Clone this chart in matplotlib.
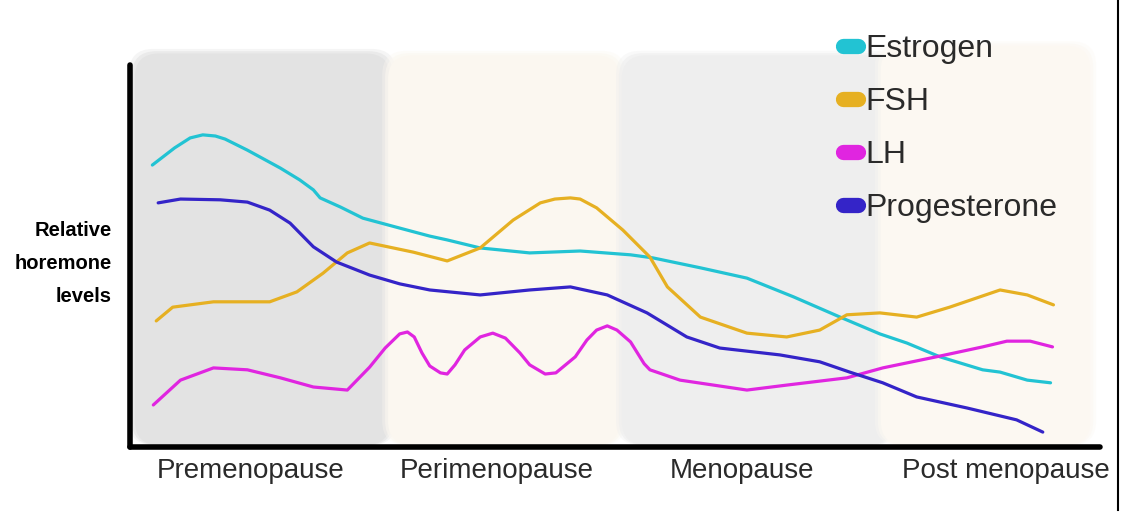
import numpy as np
import matplotlib
matplotlib.use("Agg")
import matplotlib.pyplot as plt
from matplotlib.patches import FancyBboxPatch
from matplotlib.lines import Line2D

plt.rcParams['font.family'] = ['Liberation Sans', 'DejaVu Sans']

# stages along the time axis (label, centre)
stages = ['Premenopause', 'Perimenopause', 'Menopause', 'Post menopause']
stage_pos = [12.4, 37.8, 63.1, 90.3]

# hormone curves, time (0-100) vs relative level (0-100)
estrogen_x = [2.3, 4.6, 6.2, 7.5, 8.8, 9.8, 12.1, 15.5, 17.5, 18.9, 19.6, 21.7, 24.0, 27.8, 30.9,
              32.7, 36.1, 41.2, 46.4, 51.6, 53.9, 58.8, 63.6, 68.4, 73.2, 77.3, 80.1, 83.5,
              87.9, 89.7, 92.5, 94.9]
estrogen_y = [73.8, 78.3, 80.9, 81.7, 81.4, 80.6, 77.7, 73.0, 69.9, 67.3, 65.2, 62.8, 59.9, 57.3,
              55.2, 54.2, 52.1, 50.8, 51.3, 50.3, 49.5, 46.9, 44.2, 39.3, 34.0, 29.6, 27.2,
              23.6, 20.2, 19.6, 17.5, 16.8]

prog_x = [2.9, 5.2, 9.3, 12.1, 14.4, 16.5, 18.9, 21.3, 24.7, 27.8, 30.9, 36.1, 41.2, 45.4,
          49.2, 53.3, 57.4, 60.8, 67.0, 71.1, 74.2, 77.6, 81.1, 86.3, 91.4, 94.1]
prog_y = [63.9, 64.9, 64.7, 64.1, 62.0, 58.6, 52.4, 48.4, 45.0, 42.7, 41.1, 39.8, 41.1, 41.9,
          39.8, 35.1, 28.8, 25.9, 24.1, 22.3, 19.6, 16.8, 13.1, 10.2, 7.1, 3.9]

fsh_x = [2.7, 4.4, 8.6, 14.4, 17.2, 19.9, 22.4, 24.7, 29.2, 32.7, 36.1, 39.5, 42.3, 43.8,
         45.4, 46.4, 48.1, 50.8, 53.6, 55.4, 58.8, 63.6, 67.7, 71.1, 73.9, 77.3, 81.1,
         84.5, 89.7, 92.5, 95.2]
fsh_y = [33.0, 36.6, 38.0, 38.0, 40.6, 45.5, 50.8, 53.4, 51.0, 48.7, 52.1, 59.4, 63.9, 64.9,
         65.2, 64.9, 62.6, 56.8, 49.7, 41.9, 34.0, 29.8, 28.8, 30.6, 34.6, 35.1, 34.0,
         36.6, 41.1, 39.8, 37.2]

lh_x = [2.4, 5.2, 8.6, 12.1, 15.5, 18.9, 22.4, 24.7, 26.3, 27.8, 28.6, 29.3, 30.1, 30.9,
        32.0, 32.7, 33.5, 34.5, 36.1, 37.4, 38.7, 40.2, 41.2, 42.8, 43.9, 45.9, 47.1,
        48.1, 49.2, 50.2, 51.6, 53.0, 53.6, 56.7, 63.6, 67.7, 73.9, 77.6, 83.5, 87.9,
        90.4, 92.8, 95.1]
lh_y = [11.0, 17.5, 20.7, 20.2, 18.1, 15.7, 14.9, 20.9, 25.9, 29.6, 30.1, 28.8, 24.6, 21.2,
        19.4, 19.1, 21.5, 25.4, 28.8, 29.8, 28.5, 24.6, 21.5, 19.1, 19.4, 23.6, 28.0,
        30.6, 31.7, 30.6, 27.5, 21.8, 20.2, 17.5, 14.9, 16.2, 18.1, 20.7, 23.8, 26.2,
        27.7, 27.7, 26.2]

fig = plt.figure(figsize=(11.22, 5.18), dpi=100)
ax = fig.add_axes([0.1159, 0.1371, 0.8645, 0.7375])
ax.set_xlim(0, 100)
ax.set_ylim(0, 100)

# soft background panels, one per stage
panels = [(0.5, 26.8, 0.5, 103.0, '#e3e3e3'),
          (26.6, 50.5, 0.5, 102.5, '#fbf7f0'),
          (50.7, 78.6, 0.5, 102.5, '#eeeeee'),
          (77.4, 99.0, 0.5, 105.0, '#fcf8f2')]
for x0, x1, y0, y1, c in panels:
    for grow, a in [(1.2, 0.35), (0.6, 0.6), (0.0, 1.0)]:
        p = FancyBboxPatch((x0 - grow * 0.5, y0), x1 - x0 + grow, y1 - y0 + grow,
                           boxstyle="round,pad=0,rounding_size=2.5",
                           fc=c, ec='none', alpha=a, clip_on=False, zorder=0,
                           mutation_aspect=2.5)
        ax.add_patch(p)

kw = dict(lw=2.3, solid_capstyle='round', solid_joinstyle='round', zorder=3)
ax.plot(estrogen_x, estrogen_y, color='#22c3d3', **kw)
ax.plot(fsh_x, fsh_y, color='#e6b022', **kw)
ax.plot(lh_x, lh_y, color='#e025e0', **kw)
ax.plot(prog_x, prog_y, color='#3424c8', **kw)

for s in ['top', 'right']:
    ax.spines[s].set_visible(False)
for s in ['left', 'bottom']:
    ax.spines[s].set_linewidth(4)
    ax.spines[s].set_capstyle('round')
    ax.spines[s].set_zorder(4)

ax.set_facecolor('none')
ax.set_yticks([])
ax.set_xticks(stage_pos)
ax.set_xticklabels(stages, fontsize=20, color='#2a2a2a')
ax.tick_params(axis='x', length=0, pad=8)

ax.set_ylabel('Relative\nhoremone\nlevels', rotation=0, ha='right', va='center',
              fontsize=14.5, fontweight='bold', linespacing=1.95)
ax.yaxis.set_label_coords(-0.019, 0.48)

handles = [Line2D([], [], color=c, lw=11, solid_capstyle='round')
           for c in ['#22c3d3', '#e6b022', '#e025e0', '#3424c8']]
leg = ax.legend(handles, ['Estrogen', 'FSH', 'LH', 'Progesterone'],
                loc='upper left', bbox_to_anchor=(0.722, 1.115), frameon=False,
                fontsize=23, handlelength=0.45, handletextpad=0.25, labelspacing=0.72,
                borderaxespad=0)
for t in leg.get_texts():
    t.set_color('#2a2a2a')

fig.add_artist(Line2D([0.9964, 0.9964], [0.015, 1.0], color='black', lw=1.5))

plt.savefig('out.png', dpi=100)
